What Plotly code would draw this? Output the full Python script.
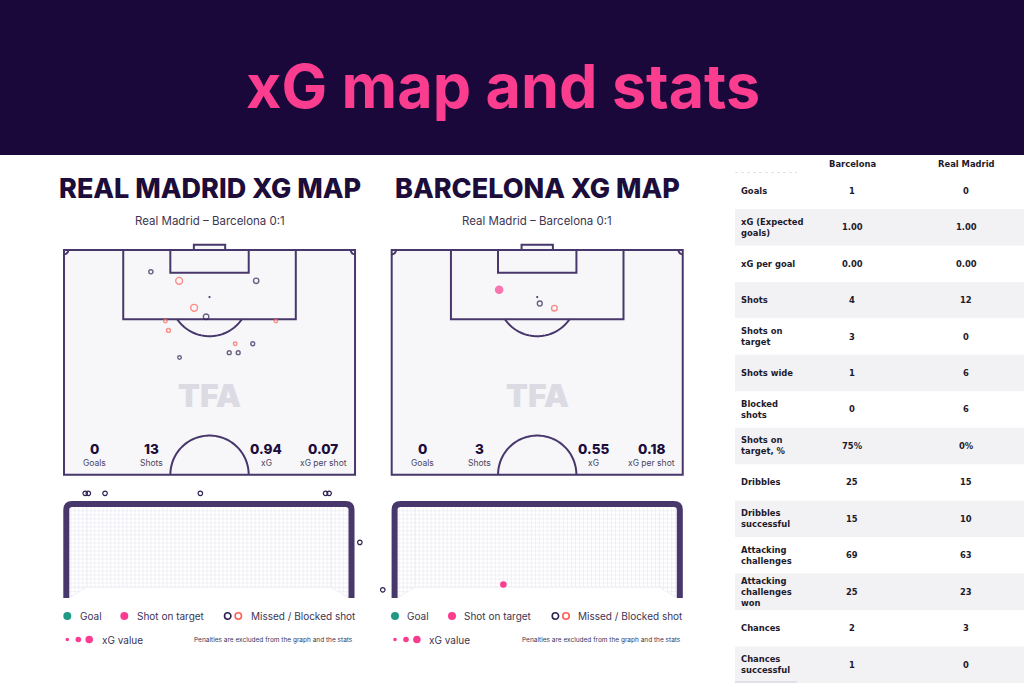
import numpy as np
import plotly.graph_objects as go

W, H = 1024, 683

# ---------------- data ----------------
title_text = "xG map and stats"
map_titles = ["REAL MADRID XG MAP", "BARCELONA XG MAP"]
match_label = "Real Madrid – Barcelona 0:1"

# shots on pitch: x across the pitch (m), distance from goal line (m)
rm_shot_x = [20.3, 26.9, 44.9, 30.4, 33.2, 23.7, 49.5, 24.4, 40.0, 44.1, 38.6, 40.7, 27.0]
rm_shot_d = [5.1, 7.2, 7.2, 13.5, 15.6, 16.6, 16.6, 18.8, 21.9, 21.9, 24.0, 24.0, 25.1]
rm_shot_xg = [0.05, 0.20, 0.10, 0.20, 0.11, 0.03, 0.03, 0.04, 0.03, 0.04, 0.04, 0.04, 0.03]
rm_shot_type = ["missed", "blocked", "missed", "blocked", "missed", "blocked", "blocked",
                "blocked", "blocked", "missed", "missed", "missed", "missed"]

bar_shot_x = [25.1, 34.6, 38.0]
bar_shot_d = [9.3, 12.5, 13.6]
bar_shot_xg = [0.35, 0.08, 0.12]
bar_shot_type = ["on_target", "missed", "blocked"]

# goal-frame view: x across goal (m, 0 = centre), height (m)
rm_goal_x = [-3.18, -3.10, -2.67, -0.22, 3.00, 3.09, 3.88]
rm_goal_y = [2.69, 2.69, 2.69, 2.69, 2.69, 2.69, 1.43]
rm_goal_type = ["missed"] * 7
bar_goal_x = [-3.97, -0.87]
bar_goal_y = [0.21, 0.35]
bar_goal_type = ["missed", "on_target"]

stat_labels = ["Goals", "Shots", "xG", "xG per shot"]
rm_stats = [0, 13, 0.94, 0.07]
bar_stats = [0, 3, 0.55, 0.18]

table_teams = ["Barcelona", "Real Madrid"]
table_labels = ["Goals", "xG (Expected<br>goals)", "xG per goal", "Shots", "Shots on<br>target",
                "Shots wide", "Blocked<br>shots", "Shots on<br>target, %", "Dribbles",
                "Dribbles<br>successful", "Attacking<br>challenges", "Attacking<br>challenges<br>won",
                "Chances", "Chances<br>successful"]
table_barcelona = ["1", "1.00", "0.00", "4", "3", "1", "0", "75%", "25", "15", "69", "25", "2", "1"]
table_real_madrid = ["0", "1.00", "0.00", "12", "0", "6", "6", "0%", "15", "10", "63", "23", "3", "0"]

# ---------------- style ----------------
NAVY = "#1b083b"
PINK = "#fa3d8f"
LINE = "#47376b"
DARK = "#2e2050"
CORAL = "#ff5d52"
TEAL = "#1f9a86"
TXT = "#1c0d3a"
GREY_TXT = "#4a4460"
PITCH_BG = "#f7f7fa"
NET = "#ebeaf1"
FONT = "Inter"

S = 4.28      # px per metre on pitch
G = 38.9      # px per metre on goal view
PITCH_LEFT = [64.0, 391.7]
PITCH_TOP = 250.0
GOAL_CX = [208.9, 537.2]
GOAL_GROUND = 598.0
LEG_DX = [0.0, 327.7]

fig = go.Figure()
shapes, annots = [], []
lay = {}

# canvas axis in pixels
lay["xaxis"] = dict(domain=[0, 1], range=[0, W], visible=False, fixedrange=True)
lay["yaxis"] = dict(domain=[0, 1], range=[H, 0], visible=False, fixedrange=True)


def arc_path(cx, cy, r, a0, a1, n=60):
    t = np.linspace(a0, a1, n)
    xs = cx + r * np.cos(t)
    ys = cy + r * np.sin(t)
    return "M " + " L ".join(f"{x:.3f},{y:.3f}" for x, y in zip(xs, ys))


def pitch(i, shot_x, shot_d, shot_xg, shot_type, stats):
    n = 2 + i
    xa, ya = f"x{n}", f"y{n}"
    xr = [-1.5, 69.5]
    yr = [54.0, -2.0]
    left = PITCH_LEFT[i]
    x0 = left + xr[0] * S
    x1 = left + xr[1] * S
    top = PITCH_TOP + yr[1] * S
    bot = PITCH_TOP + yr[0] * S
    lay[f"xaxis{n}"] = dict(domain=[x0 / W, x1 / W], range=xr, visible=False,
                            fixedrange=True, anchor=ya)
    lay[f"yaxis{n}"] = dict(domain=[1 - bot / H, 1 - top / H], range=yr, visible=False,
                            fixedrange=True, anchor=xa)
    ln = dict(color=LINE, width=2)
    base = dict(xref=xa, yref=ya, layer="below")
    shapes.append(dict(type="rect", x0=0, x1=68, y0=0, y1=52.5, fillcolor=PITCH_BG, line=ln, **base))
    shapes.append(dict(type="rect", x0=30.34, x1=37.66, y0=-1.2, y1=0, fillcolor=PITCH_BG, line=ln, **base))
    shapes.append(dict(type="rect", x0=13.84, x1=54.16, y0=0, y1=16.2, line=ln, **base))
    shapes.append(dict(type="rect", x0=24.84, x1=43.16, y0=0, y1=5.3, line=ln, **base))
    # penalty arc (below box)
    a = np.arccos((16.2 - 11) / 9.15)
    shapes.append(dict(type="path", path=arc_path(34, 11, 9.15, np.pi / 2 - a, np.pi / 2 + a), line=ln, **base))
    # centre circle arc
    shapes.append(dict(type="path", path=arc_path(34, 52.5, 9.15, np.pi, 2 * np.pi), line=ln, **base))
    # corner arcs
    shapes.append(dict(type="path", path=arc_path(0, 0, 1.0, 0, np.pi / 2, 12), line=ln, **base))
    shapes.append(dict(type="path", path=arc_path(68, 0, 1.0, np.pi / 2, np.pi, 12), line=ln, **base))
    # penalty spot
    shapes.append(dict(type="circle", x0=33.75, x1=34.25, y0=10.75, y1=11.25, fillcolor=LINE,
                       line=dict(width=0), **base))
    # watermark
    annots.append(dict(xref=xa, yref=ya, x=34, y=34.1, text="TFA", showarrow=False,
                       font=dict(family=FONT, size=32, color="#dcdbe3", weight=900)))
    # stats
    stat_x = [7.1, 20.5, 47.2, 60.6]
    for k, (lab, val) in enumerate(zip(stat_labels, stats)):
        txt = f"{val:.2f}" if isinstance(val, float) else str(val)
        annots.append(dict(xref=xa, yref=ya, x=stat_x[k], y=46.6, text=txt, showarrow=False,
                           font=dict(family=FONT, size=13.5, color=TXT, weight=800)))
        annots.append(dict(xref=xa, yref=ya, x=stat_x[k], y=49.8, text=lab, showarrow=False,
                           font=dict(family=FONT, size=8.5, color=GREY_TXT)))
    # shots
    xg = np.array(shot_xg)
    sizes = 1.5 + 12 * np.sqrt(xg)
    st = np.array(shot_type)
    sx, sd = np.array(shot_x), np.array(shot_d)
    styles = {
        "missed": dict(symbol="circle-open", color=DARK, line=dict(width=1.4, color=DARK)),
        "blocked": dict(symbol="circle-open", color=CORAL, line=dict(width=1.4, color=CORAL)),
        "on_target": dict(symbol="circle", color=PINK, line=dict(width=0)),
        "goal": dict(symbol="circle", color=TEAL, line=dict(width=0)),
    }
    for typ, sty in styles.items():
        m = st == typ
        if m.any():
            fig.add_trace(go.Scatter(x=sx[m], y=sd[m], mode="markers", xaxis=xa, yaxis=ya,
                                     marker=dict(size=sizes[m], **sty), cliponaxis=False,
                                     hoverinfo="skip", showlegend=False))


def goal_view(i, gx, gy, gtype):
    n = 4 + i
    xa, ya = f"x{n}", f"y{n}"
    cx = GOAL_CX[i]
    dom_px = [55, 375] if i == 0 else [378, 695]
    xr = [(dom_px[0] - cx) / G, (dom_px[1] - cx) / G]
    ypx = [480, 604]
    yr = [(GOAL_GROUND - ypx[1]) / G, (GOAL_GROUND - ypx[0]) / G]
    lay[f"xaxis{n}"] = dict(domain=[dom_px[0] / W, dom_px[1] / W], range=xr, visible=False,
                            fixedrange=True, anchor=ya)
    lay[f"yaxis{n}"] = dict(domain=[1 - ypx[1] / H, 1 - ypx[0] / H], range=yr, visible=False,
                            fixedrange=True, anchor=xa)
    base = dict(xref=xa, yref=ya, layer="below")
    # net
    hw, top = 3.589, 2.339
    bd, by = 3.14, 0.283
    segs = []
    for x in np.arange(-3.55, 3.56, 0.103):
        ax = abs(x)
        b = by if ax <= bd else by * (hw - ax) / (hw - bd)
        segs.append(f"M{x:.3f},{b:.3f} L{x:.3f},{top:.3f}")
    for y in np.arange(by, top, 0.103):
        segs.append(f"M{-hw:.3f},{y:.3f} L{hw:.3f},{y:.3f}")
    for y in np.arange(0.06, by, 0.103):
        dx = hw - (hw - bd) * y / by
        segs.append(f"M{-hw:.3f},{y:.3f} L{-dx:.3f},{y:.3f}")
        segs.append(f"M{dx:.3f},{y:.3f} L{hw:.3f},{y:.3f}")
    segs.append(f"M{-hw:.3f},0 L{-bd:.3f},{by:.3f} L{bd:.3f},{by:.3f} L{hw:.3f},0")
    segs.append(f"M{-bd:.3f},{by:.3f} L{-bd:.3f},{top:.3f} M{bd:.3f},{by:.3f} L{bd:.3f},{top:.3f}")
    shapes.append(dict(type="path", path=" ".join(segs), line=dict(color=NET, width=0.7), **base))
    # frame
    p, c, r = 3.666, 2.416, 0.15
    frame = (f"M{-p},0 L{-p},{c - r} Q{-p},{c} {-p + r},{c} L{p - r},{c} "
             f"Q{p},{c} {p},{c - r} L{p},0")
    shapes.append(dict(type="path", path=frame, line=dict(color=LINE, width=6), **base))
    gt = np.array(gtype)
    gxa, gya = np.array(gx), np.array(gy)
    m = gt == "missed"
    if m.any():
        fig.add_trace(go.Scatter(x=gxa[m], y=gya[m], mode="markers", xaxis=xa, yaxis=ya,
                                 marker=dict(symbol="circle-open", size=4.5, color=DARK,
                                             line=dict(width=1.2, color=DARK)),
                                 cliponaxis=False, hoverinfo="skip", showlegend=False))
    m = gt == "on_target"
    if m.any():
        fig.add_trace(go.Scatter(x=gxa[m], y=gya[m], mode="markers", xaxis=xa, yaxis=ya,
                                 marker=dict(symbol="circle", size=6.5, color=PINK),
                                 cliponaxis=False, hoverinfo="skip", showlegend=False))


pitch(0, rm_shot_x, rm_shot_d, rm_shot_xg, rm_shot_type, rm_stats)
pitch(1, bar_shot_x, bar_shot_d, bar_shot_xg, bar_shot_type, bar_stats)
goal_view(0, rm_goal_x, rm_goal_y, rm_goal_type)
goal_view(1, bar_goal_x, bar_goal_y, bar_goal_type)

cv = dict(xref="x", yref="y", showarrow=False)


def circ(cx, cy, r, fill=None, line=None, lw=0):
    shapes.append(dict(type="circle", xref="x", yref="y", x0=cx - r, x1=cx + r, y0=cy - r, y1=cy + r,
                       fillcolor=fill if fill else "rgba(0,0,0,0)",
                       line=dict(color=line if line else "rgba(0,0,0,0)", width=lw), layer="above"))


# banner
shapes.append(dict(type="rect", xref="x", yref="y", x0=0, x1=W, y0=0, y1=155, fillcolor=NAVY,
                   line=dict(width=0), layer="below"))
annots.append(dict(x=503, y=86, text=title_text, font=dict(family=FONT, size=61, color=PINK, weight=700), **cv))

LEG_FONT = dict(family=FONT, size=10, color="#3d3553")
for i in range(2):
    cxm = PITCH_LEFT[i] + 34 * S
    annots.append(dict(x=cxm, y=188, text=map_titles[i],
                       font=dict(family=FONT, size=27, color=TXT, weight=800), **cv))
    annots.append(dict(x=cxm, y=221, text=match_label,
                       font=dict(family=FONT, size=11.5, color="#3d3553"), **cv))
    dx = LEG_DX[i]
    y1, y2 = 616, 639.5
    circ(67.3 + dx, y1, 4, fill=TEAL)
    annots.append(dict(x=77.5 + dx, y=y1, text="Goal", xanchor="left", font=LEG_FONT, **cv))
    circ(124.3 + dx, y1, 4, fill=PINK)
    annots.append(dict(x=134.5 + dx, y=y1, text="Shot on target", xanchor="left", font=LEG_FONT, **cv))
    circ(227.7 + dx, y1, 3.2, line=DARK, lw=1.6)
    circ(238.3 + dx, y1, 3.2, line=CORAL, lw=1.6)
    annots.append(dict(x=248.5 + dx, y=y1, text="Missed / Blocked shot", xanchor="left",
                       font=LEG_FONT, **cv))
    circ(67.3 + dx, y2, 1.8, fill=PINK)
    circ(78.3 + dx, y2, 2.8, fill=PINK)
    circ(89.2 + dx, y2, 3.8, fill=PINK)
    annots.append(dict(x=99.5 + dx, y=y2, text="xG value", xanchor="left", font=LEG_FONT, **cv))
    annots.append(dict(x=355 + dx, y=y2, text="Penalties are excluded from the graph and the stats",
                       xanchor="right", font=dict(family=FONT, size=6.5, color="#3d3553"), **cv))

# stats table on the right
T_X0, T_X1 = 735, W
ROW0, ROWH = 172.5, 36.46
COLS = [852, 966]
TFONT = dict(family="DejaVu Sans", size=8.4, color="#1d1a2c", weight=700)
for j, team in enumerate(table_teams):
    annots.append(dict(x=COLS[j], y=163.5, text=team, font=dict(TFONT, weight=600), **cv))
shapes.append(dict(type="line", xref="x", yref="y", x0=T_X0, x1=797, y0=172.5, y1=172.5,
                   line=dict(color="#e2e2e8", width=1, dash="dot"), layer="above"))
for r, (lab, vb, vr) in enumerate(zip(table_labels, table_barcelona, table_real_madrid)):
    top = ROW0 + r * ROWH
    cy = top + ROWH / 2
    if r % 2 == 1:
        shapes.append(dict(type="rect", xref="x", yref="y", x0=T_X0, x1=T_X1, y0=top, y1=top + ROWH,
                           fillcolor="#f2f2f4", line=dict(width=0), layer="below"))
    annots.append(dict(x=739, y=cy, text=lab, xanchor="left", align="left", font=TFONT, **cv))
    annots.append(dict(x=COLS[0], y=cy, text=vb, font=TFONT, **cv))
    annots.append(dict(x=COLS[1], y=cy, text=vr, font=TFONT, **cv))
shapes.append(dict(type="line", xref="x", yref="y", x0=T_X0, x1=797, y0=682, y1=682,
                   line=dict(color="#cfcfd6", width=1), layer="above"))

fig.update_layout(
    width=W, height=H, margin=dict(l=0, r=0, t=0, b=0),
    paper_bgcolor="white", plot_bgcolor="rgba(0,0,0,0)",
    showlegend=False, shapes=shapes, annotations=annots, **lay,
)
fig.write_html("out.html", post_script="document.body.style.margin='0px';",
               config={"displayModeBar": False, "staticPlot": True})
